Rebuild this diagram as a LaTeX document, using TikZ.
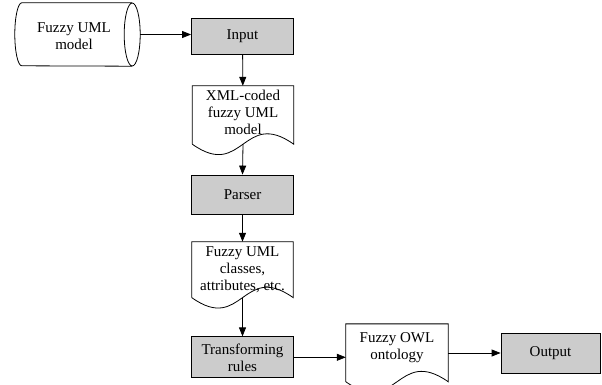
\documentclass[tikz,border=0pt]{standalone}
\usepackage{fontspec}
\setmainfont{Liberation Serif}
\usetikzlibrary{arrows.meta,calc}
\definecolor{procgray}{HTML}{CCCCCC}
\tikzset{
  outline/.style={draw=black, line width=0.8pt},
  txtfont/.style={font=\fontsize{15pt}{17pt}\selectfont},
  procbox/.style={outline, fill=procgray, rectangle, minimum width=102pt,
    inner sep=0pt, align=center, txtfont},
  area/.style={rectangle, inner sep=0pt},
  txt/.style={inner sep=0pt, align=center, txtfont},
  flow/.style={draw=black, line width=0.8pt, -{Triangle[length=9pt,width=7pt]}},
}
% document symbol: straight top and sides, wavy bottom edge
\newcommand\docframe[1]{%
  \draw[outline] (#1.south west) -- (#1.north west) -- (#1.north east) -- (#1.south east)
    .. controls ($(#1.south)+(0pt,36pt)$) and ($(#1.south)+(0pt,-36pt)$) .. (#1.south west);}
\begin{document}
\begin{tikzpicture}[x=1pt,y=-1pt]
  \useasboundingbox (0,0) rectangle (602,385);
  \clip (0,0) rectangle (602,385);

  % stored model (horizontal cylinder)
  \node[area, minimum width=110pt, minimum height=63pt] (cyl) at (77,34.5) {};
  \draw[outline] (cyl.north east) -- (cyl.north west)
    arc[start angle=90, end angle=270, x radius=7pt, y radius=31.5pt] -- (cyl.south east);
  \draw[outline] (cyl.east) ellipse[x radius=8pt, y radius=31.5pt];
  \coordinate (cylout) at ($(cyl.east)+(8pt,0pt)$);
  \node[txt] (cylt) at (74,36.5) {Fuzzy UML\\model};

  % processing steps
  \node[procbox, minimum height=36pt] (input) at (242.5,36.3) {Input};
  \node[procbox, minimum height=39pt] (parser) at (242.5,194.5) {Parser};
  \node[procbox, minimum height=41pt] (trans) at (242.5,357.3) {Transforming\\rules};
  \node[procbox, minimum width=99pt, minimum height=40pt] (output) at (550.5,353) {Output};

  % intermediate documents
  \node[area, minimum width=101pt, minimum height=58pt] (d1) at (243,115) {};
  \docframe{d1}
  \node[txt] (d1t) at (243,112) {XML-coded\\fuzzy UML\\model};

  \node[area, minimum width=101pt, minimum height=55.5pt] (d2) at (242.5,269.7) {};
  \docframe{d2}
  \node[txt] (d2t) at (242.5,269.5) {Fuzzy UML\\classes,\\attributes, etc.};

  \node[area, minimum width=102pt, minimum height=57.5pt] (d3) at (397,352.8) {};
  \docframe{d3}
  \node[txt] (d3t) at (397,347.5) {Fuzzy OWL\\ontology};

  % data flow
  \draw[flow] (cylout) -- (cylout -| input.west);
  \draw[flow] (input) -- (d1);
  \draw[flow] (d1.south) -- (parser.north);
  \draw[flow] (parser) -- (d2);
  \draw[flow] (d2.south) -- (trans.north);
  \draw[flow] (trans.east) -- (trans.east -| d3.west);
  \draw[flow] (d3.east |- output.west) -- (output.west);
\end{tikzpicture}
\end{document}
